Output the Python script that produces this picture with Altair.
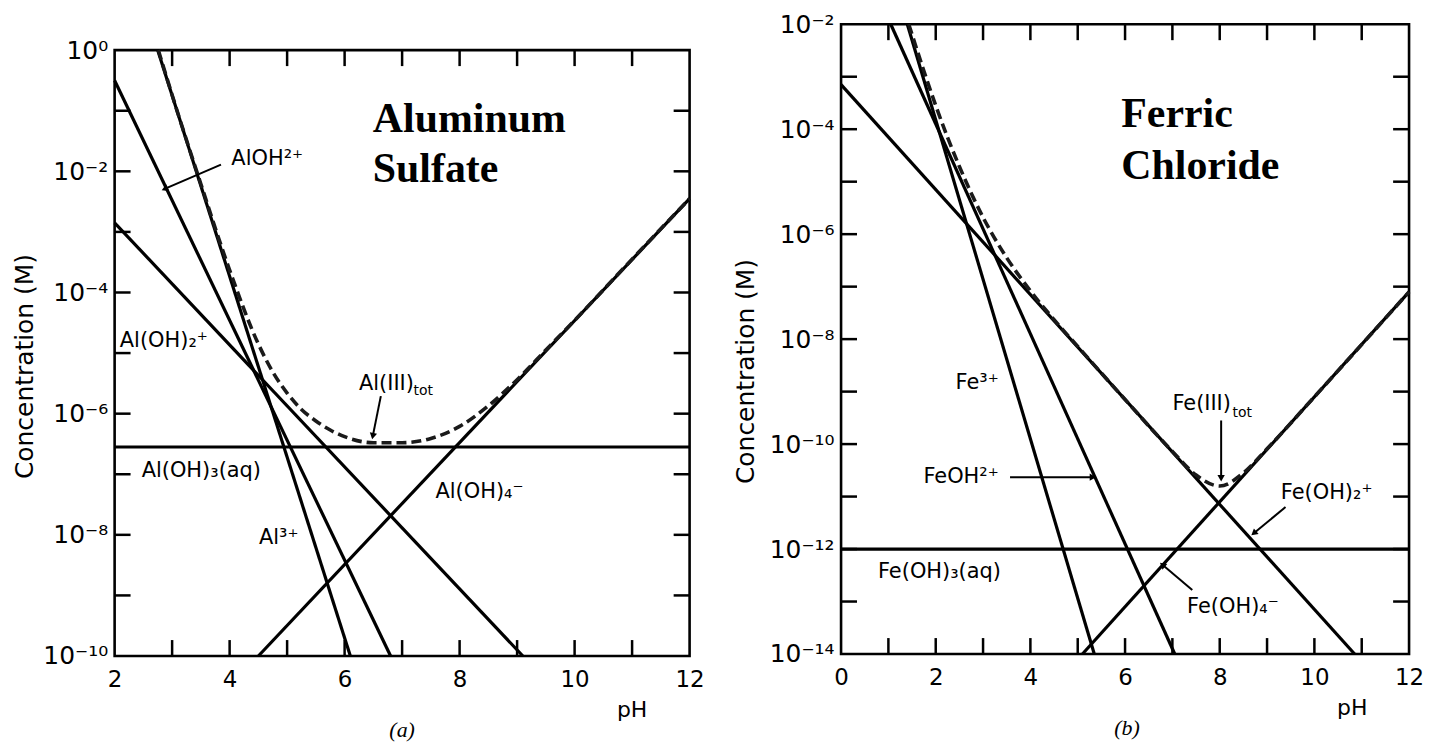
import json
import math
import altair as alt
import pandas as pd

# ---------------- Panel (a): Aluminum sulfate ----------------
# straight species lines: start / end points (pH, log10 concentration)
al_names = ["Al³⁺", "AlOH²⁺", "Al(OH)₂⁺", "Al(OH)₃(aq)", "Al(OH)₄⁻"]
al_ph0 = [2.75, 2.0, 2.0, 2.0, 4.5]
al_lc0 = [0.0, -0.5, -2.85, -6.55, -10.0]
al_ph1 = [6.1, 6.8, 9.1, 12.0, 12.0]
al_lc1 = [-10.0, -10.0, -10.0, -6.55, -2.45]

# dashed Al(III)tot curve
al_tot_ph = [2.76, 3.0, 3.5, 4.0, 4.5, 4.75, 5.0, 5.25, 5.5, 5.75, 6.0, 6.5, 7.0,
             7.5, 8.0, 8.5, 9.0, 9.5, 10.0, 11.0, 12.0]
al_tot_lc = [0.0, -0.74, -2.21, -3.63, -4.85, -5.31, -5.66, -5.93, -6.12, -6.27,
             -6.38, -6.48, -6.48, -6.41, -6.21, -5.87, -5.44, -4.95, -4.46, -3.45, -2.45]

al_lab_text = ["AlOH²⁺", "Al(OH)₂⁺", "Al(OH)₃(aq)", "Al³⁺", "Al(III)", "Al(OH)₄⁻"]
al_lab_ph = [4.03, 2.09, 2.47, 4.51, 6.25, 7.58]
al_lab_lc = [-1.8, -4.8, -6.94, -8.06, -5.51, -7.3]
al_sub_text = ["tot"]
al_sub_ph = [7.2]
al_sub_lc = [-5.63]

al_arrow_ph0 = [3.85, 6.63]
al_arrow_lc0 = [-1.89, -5.71]
al_arrow_ph1 = [2.87, 6.49]
al_arrow_lc1 = [-2.29, -6.37]

al_title = ["Aluminum", "Sulfate"]
al_title_ph = [6.49, 6.49]
al_title_lc = [-1.35, -2.17]

al_xdomain = [2, 12]
al_ydomain = [-10, 0]
al_xlabels = [2, 4, 6, 8, 10, 12]
al_xticks = [3, 4, 5, 6, 7, 8, 9, 10, 11]
al_ylabels = [0, -2, -4, -6, -8, -10]
al_yticks = [-1, -2, -3, -4, -5, -6, -7, -8, -9]

# ---------------- Panel (b): Ferric chloride ----------------
fe_names = ["Fe³⁺", "FeOH²⁺", "Fe(OH)₂⁺", "Fe(OH)₃(aq)", "Fe(OH)₄⁻"]
fe_ph0 = [1.4, 1.05, 0.0, 0.0, 5.1]
fe_lc0 = [-2.0, -2.0, -3.15, -12.0, -14.0]
fe_ph1 = [5.35, 7.05, 10.85, 12.0, 12.0]
fe_lc1 = [-14.0, -14.0, -14.0, -12.0, -7.1]

fe_tot_ph = [1.43, 1.75, 2.0, 2.5, 3.0, 3.5, 4.0, 4.5, 5.0, 6.0, 7.0, 7.5, 8.0,
             8.5, 9.0, 10.0, 12.0]
fe_tot_lc = [-2.0, -2.89, -3.55, -4.71, -5.68, -6.45, -7.08, -7.63, -8.14, -9.15,
             -10.14, -10.59, -10.8, -10.55, -10.09, -9.1, -7.1]

fe_lab_text = ["Fe³⁺", "FeOH²⁺", "Fe(OH)₃(aq)", "Fe(III)", "Fe(OH)₂⁺", "Fe(OH)₄⁻"]
fe_lab_ph = [2.42, 1.74, 0.78, 7.0, 9.29, 7.31]
fe_lab_lc = [-8.83, -10.63, -12.44, -9.23, -10.94, -13.1]
fe_sub_text = ["tot"]
fe_sub_ph = [8.27]
fe_sub_lc = [-9.4]

fe_arrow_ph0 = [3.57, 8.03, 9.39, 7.42]
fe_arrow_lc0 = [-10.63, -9.55, -11.2, -12.78]
fe_arrow_ph1 = [5.32, 8.03, 8.72, 6.79]
fe_arrow_lc1 = [-10.63, -10.65, -11.7, -12.3]

fe_title = ["Ferric", "Chloride"]
fe_title_ph = [5.92, 5.92]
fe_title_lc = [-3.95, -4.94]

fe_xdomain = [0, 12]
fe_ydomain = [-14, -2]
fe_xlabels = [0, 2, 4, 6, 8, 10, 12]
fe_xticks = [1, 2, 3, 4, 5, 6, 7, 8, 9, 10, 11]
fe_ylabels = [-2, -4, -6, -8, -10, -12, -14]
fe_yticks = [-3, -4, -5, -6, -7, -8, -9, -10, -11, -12, -13]

SUP = {"0": "⁰", "1": "¹", "2": "²", "3": "³", "4": "⁴", "5": "⁵", "6": "⁶",
       "7": "⁷", "8": "⁸", "9": "⁹", "-": "⁻"}
POW_LABELS = ["10" + "".join(SUP[ch] for ch in str(-k)) for k in range(0, 15)]
LABEL_EXPR = json.dumps(POW_LABELS, ensure_ascii=False) + "[-round(log(datum.value)/LN10)]"

FONT = "DejaVu Sans"


def conc(vals):
    return [10.0 ** v for v in vals]


def panel(names, ph0, lc0, ph1, lc1, tot_ph, tot_lc,
          lab_text, lab_ph, lab_lc, sub_text, sub_ph, sub_lc,
          ar_ph0, ar_lc0, ar_ph1, ar_lc1,
          title, title_ph, title_lc,
          xdomain, ydomain, xlabels, xticks, ylabels, yticks,
          W, H, top, title_y, title_pad, ph_label_x, panel_tag, tag_x):
    # the plot frame runs from y=top to y=H (pixels inside the view)
    xs = alt.Scale(domain=xdomain, nice=False, zero=False)
    ys = alt.Scale(type="log", domain=[10.0 ** ydomain[0], 10.0 ** ydomain[1]],
                   nice=False, range=[H, top])
    xaxis = alt.Axis(values=xlabels, title=None, grid=False, ticks=False, domain=False,
                     labelFont=FONT, labelFontSize=23, labelPadding=13, labelColor="black",
                     labelFlush=False, labelOverlap=False, format="d")
    yaxis = alt.Axis(values=conc(ylabels), labelExpr=LABEL_EXPR, title="Concentration (M)",
                     grid=False, ticks=False, domain=False, labelFont=FONT,
                     labelFontSize=25, labelPadding=7, labelColor="black", labelOverlap=False,
                     titleFont=FONT, titleFontSize=25, titleFontWeight="normal",
                     titleColor="black", titlePadding=title_pad, titleY=title_y)
    X = alt.X("ph:Q", scale=xs, axis=xaxis)
    Y = alt.Y("c:Q", scale=ys, axis=yaxis)

    frame = alt.Chart(pd.DataFrame({"d": [0]})).mark_rect(
        fillOpacity=0, stroke="black", strokeWidth=2.6).encode(
        x=alt.value(0), x2=alt.value(W), y=alt.value(top), y2=alt.value(H))

    rows = []
    for n, a, b, c, d in zip(names, ph0, lc0, ph1, lc1):
        rows.append({"name": n, "ph": a, "c": 10.0 ** b})
        rows.append({"name": n, "ph": c, "c": 10.0 ** d})
    lines = alt.Chart(pd.DataFrame(rows)).mark_line(color="black", strokeWidth=3.2).encode(
        x=X, y=Y, detail="name:N")

    tot = alt.Chart(pd.DataFrame({"ph": tot_ph, "c": conc(tot_lc)})).mark_line(
        color="#1a1a1a", strokeWidth=3.6, strokeDash=[10, 5], interpolate="monotone"
    ).encode(x=X, y=Y)

    tick_len = 16
    xt = pd.DataFrame({"ph": xticks})
    yt = pd.DataFrame({"c": conc(yticks)})
    tb = alt.Chart(xt).mark_rule(color="black", strokeWidth=2.5).encode(
        x=X, y=alt.value(H), y2=alt.value(H - tick_len))
    tt = alt.Chart(xt).mark_rule(color="black", strokeWidth=2.5).encode(
        x=X, y=alt.value(top), y2=alt.value(top + tick_len))
    tl = alt.Chart(yt).mark_rule(color="black", strokeWidth=2.5).encode(
        y=Y, x=alt.value(0), x2=alt.value(tick_len))
    tr = alt.Chart(yt).mark_rule(color="black", strokeWidth=2.5).encode(
        y=Y, x=alt.value(W - tick_len), x2=alt.value(W))

    labels = alt.Chart(pd.DataFrame({"ph": lab_ph, "c": conc(lab_lc), "t": lab_text})).mark_text(
        align="left", baseline="middle", font=FONT, fontSize=21, color="black"
    ).encode(x=X, y=Y, text="t:N")
    subs = alt.Chart(pd.DataFrame({"ph": sub_ph, "c": conc(sub_lc), "t": sub_text})).mark_text(
        align="left", baseline="middle", font=FONT, fontSize=14, color="black"
    ).encode(x=X, y=Y, text="t:N")

    kx = W / (xdomain[1] - xdomain[0])
    ky = (H - top) / (ydomain[1] - ydomain[0])
    angs = []
    for a, b, c, d in zip(ar_ph0, ar_lc0, ar_ph1, ar_lc1):
        dx = (c - a) * kx
        dy = -(d - b) * ky
        angs.append(math.degrees(math.atan2(dx, -dy)) % 360)
    adf = pd.DataFrame({"ph": ar_ph0, "c": conc(ar_lc0), "ph2": ar_ph1,
                        "c2": conc(ar_lc1), "ang": angs})
    arrows = alt.Chart(adf).mark_rule(color="black", strokeWidth=2).encode(
        x=X, y=Y, x2="ph2:Q", y2="c2:Q")
    heads = alt.Chart(adf).mark_point(shape="triangle-up", filled=True, size=55,
                                      color="black", opacity=1).encode(
        x=alt.X("ph2:Q", scale=xs, axis=xaxis), y=alt.Y("c2:Q", scale=ys, axis=yaxis),
        angle=alt.Angle("ang:Q", scale=None))

    big = alt.Chart(pd.DataFrame({"ph": title_ph, "c": conc(title_lc), "t": title})).mark_text(
        align="left", baseline="alphabetic", font="Liberation Serif", fontWeight="bold",
        fontSize=42, color="black"
    ).encode(x=X, y=Y, text="t:N")

    phlab = alt.Chart(pd.DataFrame({"ph": [ph_label_x], "t": ["pH"]})).mark_text(
        align="center", baseline="middle", font=FONT, fontSize=22, color="black"
    ).encode(x=X, y=alt.value(H + 54), text="t:N")
    tag = alt.Chart(pd.DataFrame({"ph": [tag_x], "t": [panel_tag]})).mark_text(
        align="center", baseline="middle", font="Liberation Serif", fontStyle="italic",
        fontSize=22, color="black"
    ).encode(x=X, y=alt.value(H + 74), text="t:N")

    layers = [frame, lines, tot, tb, tt, tl, tr, labels, subs, arrows, heads, big, phlab, tag]
    return alt.layer(*layers).properties(width=W, height=H)


WA, HA, TOPA = 577, 634, 26
WB, HB, TOPB = 570, 632, 0

pa = panel(al_names, al_ph0, al_lc0, al_ph1, al_lc1, al_tot_ph, al_tot_lc,
           al_lab_text, al_lab_ph, al_lab_lc, al_sub_text, al_sub_ph, al_sub_lc,
           al_arrow_ph0, al_arrow_lc0, al_arrow_ph1, al_arrow_lc1,
           al_title, al_title_ph, al_title_lc,
           al_xdomain, al_ydomain, al_xlabels, al_xticks, al_ylabels, al_yticks,
           WA, HA, TOPA, 343, 5, 11.0, "(a)", 7.0)

pb = panel(fe_names, fe_ph0, fe_lc0, fe_ph1, fe_lc1, fe_tot_ph, fe_tot_lc,
           fe_lab_text, fe_lab_ph, fe_lab_lc, fe_sub_text, fe_sub_ph, fe_sub_lc,
           fe_arrow_ph0, fe_arrow_lc0, fe_arrow_ph1, fe_arrow_lc1,
           fe_title, fe_title_ph, fe_title_lc,
           fe_xdomain, fe_ydomain, fe_xlabels, fe_xticks, fe_ylabels, fe_yticks,
           WB, HB, TOPB, 348, 11, 10.8, "(b)", 6.04)

chart = alt.hconcat(pa, pb, spacing=28).properties(
    padding={"left": 4, "top": 3, "right": 0, "bottom": 0},
    background="white",
).configure_view(strokeWidth=0, stroke="transparent")

chart.save("out.html", embed_options={"renderer": "svg", "actions": False})
